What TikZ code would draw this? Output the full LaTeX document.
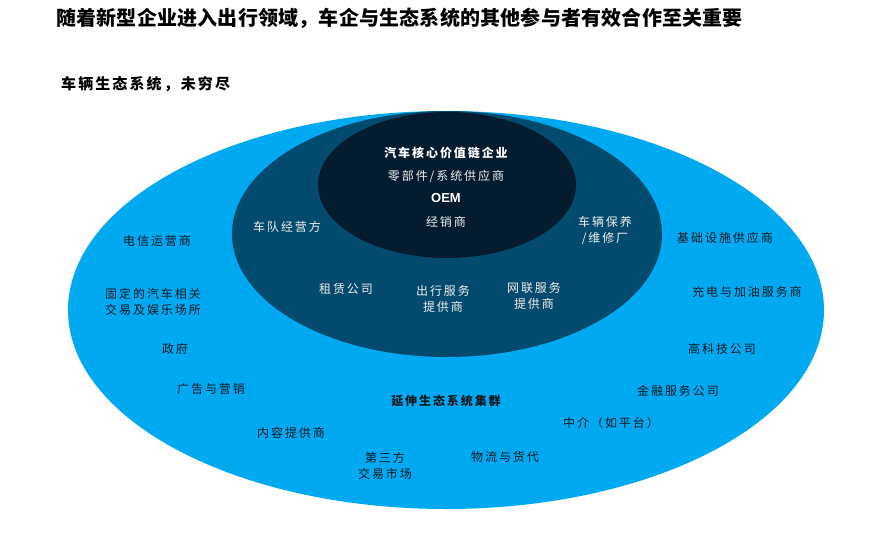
\documentclass[tikz,border=0pt]{standalone}
\usepackage{fontspec}
\setmainfont{Liberation Sans}
\newfontfamily\cjk{Noto Sans CJK SC}[LetterSpace=16]
\newfontfamily\cjkt{Noto Sans CJK SC}[LetterSpace=1]
\newfontfamily\cjks{Noto Sans CJK SC}[LetterSpace=14]
\newfontfamily\arialf{Liberation Sans}
\definecolor{outerc}{RGB}{0,169,240}
\definecolor{midc}{RGB}{3,75,110}
\definecolor{innc}{RGB}{4,28,46}
\definecolor{darktext}{RGB}{15,25,35}
\definecolor{lighttext}{RGB}{238,238,238}
\tikzset{
  lbl/.style={inner sep=0pt, align=center, font=\cjk\fontsize{12}{16}\selectfont},
  dlbl/.style={lbl, text=darktext},
  wlbl/.style={lbl, text=lighttext},
}
\begin{document}
\begin{tikzpicture}[x=1pt,y=-1pt]
\useasboundingbox (0,0) rectangle (873,536);
\fill[outerc] (446,310) ellipse [x radius=378pt, y radius=199pt];
\fill[midc] (447,234) ellipse [x radius=215pt, y radius=123pt];
\fill[innc] (447,185) ellipse [x radius=129pt, y radius=73pt];
% titles
\node[anchor=west, inner sep=0pt, font=\cjkt\bfseries\fontsize{20}{24}\selectfont] (title) at (56,18) {随着新型企业进入出行领域，车企与生态系统的其他参与者有效合作至关重要};
\node[anchor=west, inner sep=0pt, font=\cjks\bfseries\fontsize{15}{18}\selectfont] (subtitle) at (61,84) {车辆生态系统，未穷尽};
% inner
\node[wlbl, font=\cjk\bfseries\fontsize{12}{16}\selectfont, text=white] (core) at (446,153) {汽车核心价值链企业};
\node[wlbl] (parts) at (446,176) {零部件/系统供应商};
\node[wlbl, font=\arialf\bfseries\fontsize{13}{16}\selectfont, text=white] (oem) at (446,198) {OEM};
\node[wlbl] (dealer) at (446,222) {经销商};
% middle
\node[wlbl] (fleet) at (287,227) {车队经营方};
\node[wlbl] (repair) at (605,230) {车辆保养\\/维修厂};
\node[wlbl] (rental) at (346,289) {租赁公司};
\node[wlbl] (mobility) at (443,299) {出行服务\\提供商};
\node[wlbl] (connect) at (534,296) {网联服务\\提供商};
% outer
\node[dlbl] (telecom) at (157,241) {电信运营商};
\node[dlbl] (venues) at (153,302) {固定的汽车相关\\交易及娱乐场所};
\node[dlbl] (gov) at (175,349) {政府};
\node[dlbl] (ads) at (211,389) {广告与营销};
\node[dlbl] (content) at (291,433) {内容提供商};
\node[dlbl] (market) at (385,466) {第三方\\交易市场};
\node[dlbl, font=\cjk\bfseries\fontsize{12}{16}\selectfont] (ext) at (446,401) {延伸生态系统集群};
\node[dlbl] (logistics) at (505,457) {物流与货代};
\node[dlbl] (broker) at (611,423) {中介（如平台）};
\node[dlbl] (finance) at (678,391) {金融服务公司};
\node[dlbl] (hightech) at (722,349) {高科技公司};
\node[dlbl] (charge) at (747,292) {充电与加油服务商};
\node[dlbl] (infra) at (725,238) {基础设施供应商};
\end{tikzpicture}
\end{document}
